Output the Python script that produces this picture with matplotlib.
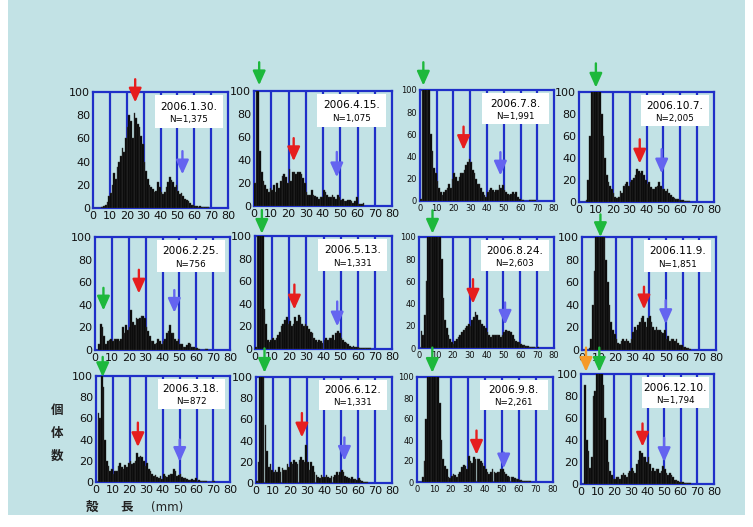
import matplotlib
matplotlib.use("Agg")
import matplotlib.pyplot as plt
from matplotlib.patches import Rectangle
import numpy as np

plt.rcParams['font.family'] = ['DejaVu Sans', 'Noto Sans CJK JP']

dates = ["2006.1.30.", "2006.4.15.", "2006.7.8.", "2006.10.7.",
         "2006.2.25.", "2006.5.13.", "2006.8.24.", "2006.11.9.",
         "2006.3.18.", "2006.6.12.", "2006.9.8.", "2006.12.10."]
ns = ["N=1,375", "N=1,075", "N=1,991", "N=2,005",
      "N=756", "N=1,331", "N=2,603", "N=1,851",
      "N=872", "N=1,331", "N=2,261", "N=1,794"]

# counts per 1 mm shell-length class, starting at 0 mm
h_0130 = [0,0,0,0,0,1,2,3,5,10,13,20,30,25,35,40,45,52,48,60,70,80,75,60,82,78,72,70,62,55,
          40,32,25,20,18,16,14,15,22,18,14,12,14,18,22,27,24,22,18,20,15,12,13,10,8,7,6,4,3,3,
          2,2,1,2,1,1,1,1,1]
h_0415 = [20,130,100,48,30,22,18,15,12,16,14,18,12,20,16,22,26,28,25,20,32,22,30,30,28,30,30,28,24,20,
          12,10,10,14,10,9,8,6,8,8,14,12,10,8,8,10,8,6,10,8,5,6,4,4,5,5,4,3,4,8,
          2,2,2,3]
h_0708 = [2,130,130,130,130,110,60,45,30,25,18,12,8,5,8,10,12,15,12,20,25,22,18,22,25,25,28,32,35,38,
          35,28,25,20,15,15,12,8,5,4,8,10,12,10,8,10,10,14,12,14,10,8,6,5,6,8,6,8,4,2,
          1,1,0,0,0,1,1,1,1]
h_1007 = [0,0,0,0,2,20,60,130,130,130,130,130,110,80,60,40,25,18,15,12,8,5,4,5,10,8,15,16,18,15,
          18,20,22,25,30,28,26,28,25,20,16,18,14,12,12,14,15,18,15,12,12,10,12,8,6,5,4,3,3,2,
          2,2,1,1,1,1]
h_0225 = [0,0,5,23,20,12,5,8,9,10,8,10,10,10,8,10,20,15,22,18,20,35,25,22,28,27,28,30,30,28,
          20,17,12,8,8,5,6,10,8,5,8,10,15,17,22,15,15,10,8,10,5,5,3,3,4,6,5,3,3,2,
          2,1,0,0,0,1,1]
h_0513 = [2,130,130,130,110,35,22,8,6,8,10,8,10,12,15,20,22,26,28,22,25,20,22,28,25,30,28,22,20,22,
          20,18,15,14,10,8,6,8,7,5,8,10,8,10,10,12,8,14,16,14,10,8,6,5,4,3,2,3,2,2,
          2,1,1,1,1,1,1,1]
h_0824 = [0,15,12,30,60,130,130,130,130,130,130,130,110,80,45,25,18,12,8,5,4,6,8,10,12,14,16,18,20,22,
          20,25,28,32,30,25,25,22,20,18,14,12,10,12,12,12,12,12,10,12,14,16,15,15,14,12,8,6,5,5,
          4,3,3,2,2,1,1,1,1,0,1]
h_1109 = [0,0,0,0,2,10,40,70,130,130,130,130,130,120,80,60,40,25,18,14,10,6,5,8,10,8,10,8,6,10,
          16,20,18,22,25,28,30,25,20,28,30,25,20,18,20,18,18,16,15,18,10,12,8,10,10,8,10,6,4,4,
          3,3,2,2,1]
h_0318 = [0,65,60,100,90,40,20,15,10,12,8,10,10,15,18,14,12,16,14,18,20,17,18,20,27,24,25,24,20,15,
          18,12,10,8,6,7,5,4,6,3,8,6,5,7,8,8,12,10,6,7,8,5,4,4,3,2,2,3,2,4,
          1,2,1,1,1,1,0,0,0,1,1]
h_0612 = [2,20,130,130,110,55,30,15,18,12,10,12,10,15,10,14,12,12,18,15,20,18,22,20,18,22,25,22,20,36,
          20,12,20,16,10,8,6,5,8,6,6,8,6,5,7,6,8,10,8,10,12,10,7,6,5,4,6,4,4,3,
          5,3,2,1,1,1]
h_0908 = [0,0,0,5,20,60,130,130,130,130,130,130,110,75,40,22,15,12,5,4,6,8,7,5,8,10,14,16,15,12,
          25,20,18,24,22,22,22,20,18,15,12,10,8,10,12,10,9,10,10,12,12,10,8,6,5,5,5,4,3,3,
          2,2,1,1,1,1,1]
h_1210 = [0,0,90,40,30,15,25,80,85,130,130,130,130,90,60,40,20,12,8,5,5,6,6,5,8,10,8,6,10,12,
          15,12,10,18,22,30,28,25,25,20,25,18,12,15,12,14,14,10,12,16,14,10,8,10,8,6,4,4,3,2,
          2,2,1,1,1,1]
hists = [h_0130, h_0415, h_0708, h_1007, h_0225, h_0513, h_0824, h_1109,
         h_0318, h_0612, h_0908, h_1210]

# arrows: (shell length, tip count, tail count)
red_arrows = [(25, 91, 111), (23, 39, 59), (26, 46, 67), (36, 35, 57),
              (26, 50, 71), (23, 35, 57), (32, 40, 62), (37, 36, 56),
              (25, 33, 56), (27, 43, 66), (35, 26, 49), (37, 34, 55)]
blue_arrows = [(53, 29, 49), (48, 25, 47), (48, 23, 44), (49, 26, 48),
               (47, 33, 53), (48, 20, 42), (51, 21, 41), (50, 23, 44),
               (50, 19, 40), (52, 21, 43), (51, 13, 28), (50, 20, 42)]
green_arrows = [None, (3, 105, 125), (2, 104, 125), (10, 104, 126),
                (5, 35, 55), (4, 102, 123), (8, 103, 124), (11, 100, 120),
                (4, 99, 118), (5, 104, 127), (9, 104, 128), (11, 102, 124)]
orange_arrows = [None]*11 + [(3, 102, 124)]

# pixel rectangles (left, top, right, bottom) in a 753x527 canvas
W, H = 753, 527
rects = [(93, 92, 228, 208), (254, 91, 392, 206), (420, 90, 554, 201), (579, 92, 714, 202),
         (95, 237, 230, 350), (255, 236, 392, 349), (419, 237, 554, 348), (582, 237, 716, 350),
         (96, 376, 230, 482), (256, 377, 392, 483), (417, 377, 553, 482), (581, 374, 714, 484)]

BG = '#c2e2e5'
GRID = '#1f2fc8'
COLORS = {'red': '#e61e1e', 'blue': '#6464f0', 'green': '#1db83c', 'orange': '#f59a28'}

fig = plt.figure(figsize=(W/100, H/100), dpi=100, facecolor='white')
fig.patches.append(Rectangle((8/W, 12/H), (745-8)/W, 1 - 12/H, transform=fig.transFigure,
                             facecolor=BG, edgecolor='none', zorder=-10))

def arrow(ax, spec, color):
    if spec is None:
        return
    x, tip, tail = spec
    ax.annotate('', xy=(x, tip), xytext=(x, tail),
                arrowprops=dict(arrowstyle='-|>,head_width=0.38,head_length=0.85',
                                color=color, lw=1.7, shrinkA=0, shrinkB=0),
                annotation_clip=False, zorder=6)

for i, (l, t, r, b) in enumerate(rects):
    ax = fig.add_axes([l/W, 1 - b/H, (r-l)/W, (b-t)/H])
    ax.set_facecolor(BG)
    vals = np.array(hists[i], dtype=float)
    xs = np.arange(len(vals)) + 0.5
    ax.bar(xs, vals, width=1.0, color='black', edgecolor='#3a3a3a', linewidth=0.3, zorder=3)
    ax.set_xlim(0, 80)
    ax.set_ylim(0, 100)
    for g in range(10, 80, 10):
        ax.axvline(g, color=GRID, lw=1.6, zorder=2)
    for s in ax.spines.values():
        s.set_color(GRID)
        s.set_linewidth(1.6)
    ax.set_xticks(range(0, 81, 10))
    ax.set_yticks(range(0, 101, 20))
    fs = 6.0 if i % 4 == 2 else 8.0
    ax.tick_params(length=0, labelsize=fs, pad=2, colors='#111111')
    # label box
    ax.add_patch(Rectangle((0.46, 0.69), 0.50, 0.28, transform=ax.transAxes,
                           facecolor='white', edgecolor='none', zorder=5))
    ax.text(0.71, 0.875, dates[i], transform=ax.transAxes, ha='center', va='center',
            fontsize=7.6, zorder=6)
    ax.text(0.71, 0.76, ns[i], transform=ax.transAxes, ha='center', va='center',
            fontsize=6.3, zorder=6)
    arrow(ax, red_arrows[i], COLORS['red'])
    arrow(ax, blue_arrows[i], COLORS['blue'])
    arrow(ax, green_arrows[i], COLORS['green'])
    arrow(ax, orange_arrows[i], COLORS['orange'])

# y label (vertical characters)
for k, ch in enumerate("個体数"):
    fig.text(57/W, 1 - (410 + k*23)/H, ch, ha='center', va='center', fontsize=9,
             family=['Noto Sans CJK JP', 'DejaVu Sans'], fontweight='bold', color='#222222')
fig.text(92/W, 1 - 507/H, "殻", ha='center', va='center', fontsize=9,
         family=['Noto Sans CJK JP', 'DejaVu Sans'], fontweight='bold', color='#222222')
fig.text(127/W, 1 - 507/H, "長", ha='center', va='center', fontsize=9,
         family=['Noto Sans CJK JP', 'DejaVu Sans'], fontweight='bold', color='#222222')
fig.text(167/W, 1 - 507/H, "(mm)", ha='center', va='center', fontsize=8.5, color='#222222')

fig.savefig("out.png", dpi=100, facecolor='white')
